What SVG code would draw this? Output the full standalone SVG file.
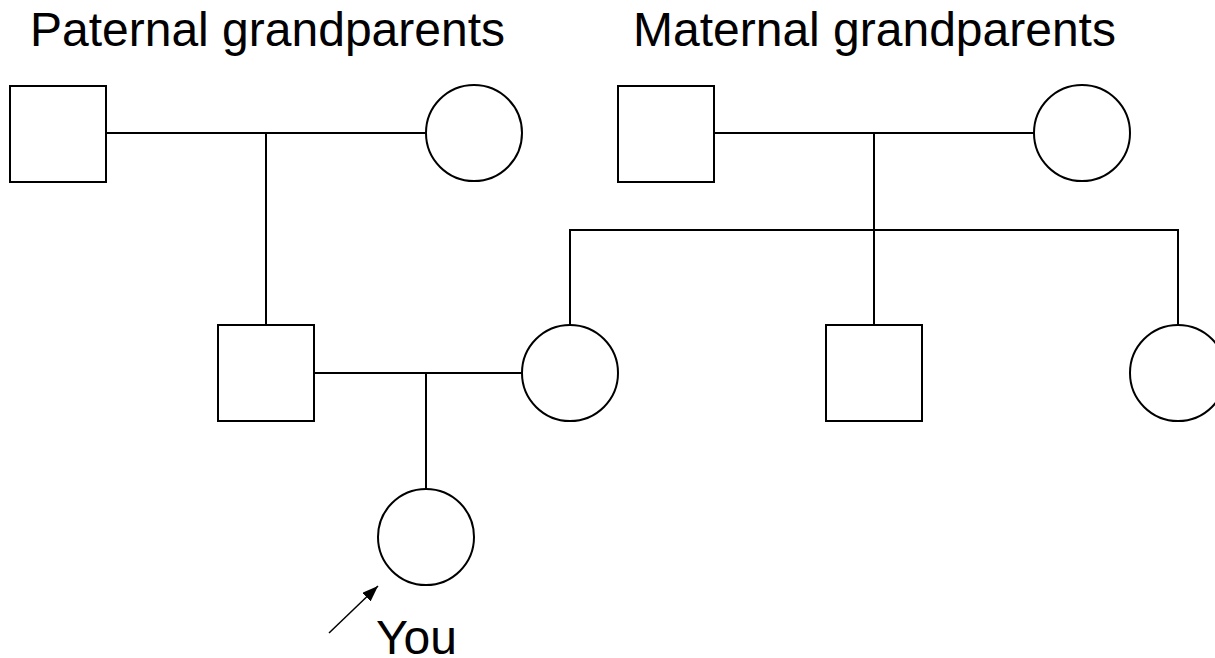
<svg xmlns="http://www.w3.org/2000/svg" width="1215" height="658" viewBox="0 0 1215 658">
<style>
.n{fill:#fff;stroke:#000;stroke-width:2}
.c{fill:none;stroke:#000;stroke-width:2}
.t{font-family:"Liberation Sans",Arial,sans-serif;font-size:48px;fill:#000}
</style>
<defs>
<marker id="ah2" viewBox="0 0 16 12" refX="16" refY="6" markerWidth="16" markerHeight="12" markerUnits="userSpaceOnUse" orient="auto">
<path d="M0,0 L16,6 L0,12 z" fill="#000"/>
</marker>
</defs>
<rect width="1215" height="658" fill="#fff"/>
<g id="labels">
<text class="t" x="30" y="46">Paternal grandparents</text>
<text class="t" x="633" y="46">Maternal grandparents</text>
<text class="t" x="376" y="654">You</text>
</g>
<g id="connectors">
<path class="c" d="M106,133 H426"/>
<path class="c" d="M266,133 V325"/>
<path class="c" d="M714,133 H1034"/>
<path class="c" d="M874,133 V325"/>
<path class="c" d="M570,325 V230 H1178 V325"/>
<path class="c" d="M314,373 H522"/>
<path class="c" d="M426,373 V489"/>
<path d="M329,633 L378,586" fill="none" stroke="#000" stroke-width="1.5" marker-end="url(#ah2)"/>
</g>
<g id="pat-grandfather"><rect class="n" x="10" y="86" width="96" height="96"/></g>
<g id="pat-grandmother"><circle class="n" cx="474" cy="133" r="48"/></g>
<g id="mat-grandfather"><rect class="n" x="618" y="86" width="96" height="96"/></g>
<g id="mat-grandmother"><circle class="n" cx="1082" cy="133" r="48"/></g>
<g id="father"><rect class="n" x="218" y="325" width="96" height="96"/></g>
<g id="mother"><circle class="n" cx="570" cy="373" r="48"/></g>
<g id="uncle"><rect class="n" x="826" y="325" width="96" height="96"/></g>
<g id="aunt"><circle class="n" cx="1178" cy="373" r="48"/></g>
<g id="you"><circle class="n" cx="426" cy="537" r="48"/></g>
</svg>
